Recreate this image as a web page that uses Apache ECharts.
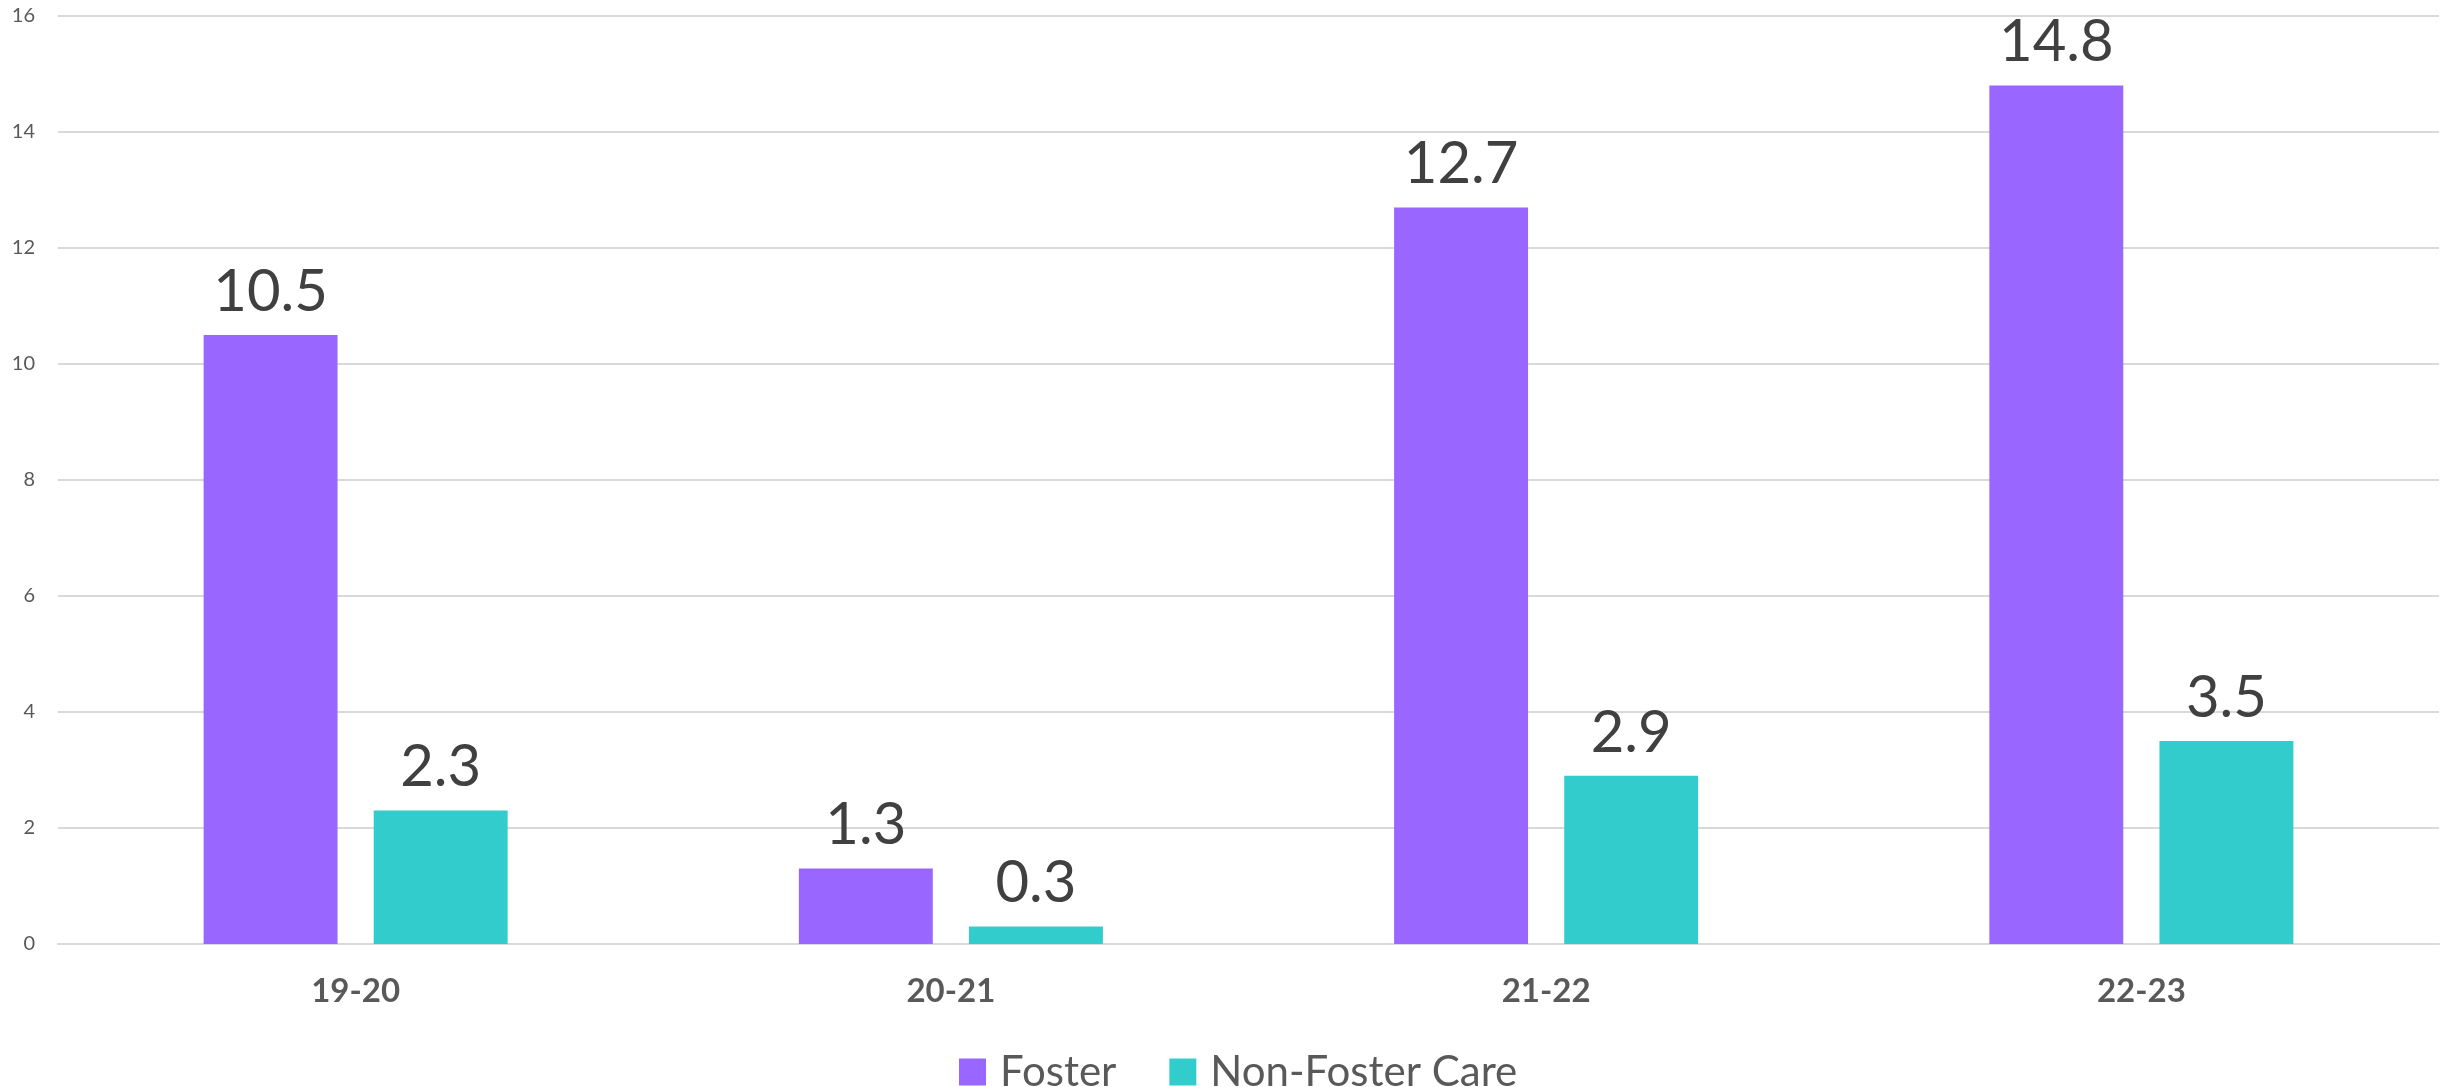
<!DOCTYPE html>
<html>
<head>
<meta charset="utf-8">
<script src="https://cdn.jsdelivr.net/npm/echarts@6/dist/echarts.min.js"></script>
<style>
html,body{margin:0;padding:0;background:#fff;}
#chart{width:2453px;height:1087px;}
</style>
</head>
<body>
<div id="chart"></div>
<script>
const categories = ['19-20', '20-21', '21-22', '22-23'];
const fosterValues = [10.5, 1.3, 12.7, 14.8];
const nonFosterValues = [2.3, 0.3, 2.9, 3.5];
const seriesNames = ['Foster', 'Non-Foster Care'];
const FONT = 'Lato, "Open Sans", sans-serif';

const chart = echarts.init(document.getElementById('chart'));
const labelStyle = {
  show: true, position: 'top', distance: 14,
  fontFamily: FONT, fontSize: 58, color: '#404040',
  formatter: p => p.value.toFixed(1)
};
chart.setOption({
  animation: false,
  backgroundColor: '#fff',
  grid: { left: 58, right: 14, top: 16, bottom: 143, containLabel: false },
  legend: {
    data: seriesNames,
    left: 954, top: 1046,
    itemWidth: 27, itemHeight: 27, itemGap: 53,
    icon: 'rect',
    textStyle: { fontFamily: FONT, fontSize: 42, color: '#595959', lineHeight: 42, padding: [0, 0, 0, 9] }
  },
  xAxis: {
    type: 'category', data: categories,
    axisLine: { show: true, lineStyle: { color: '#d9d9d9', width: 2 } },
    axisTick: { show: false },
    axisLabel: { fontFamily: FONT, fontSize: 33, fontWeight: 'bold', color: '#595959', margin: 31 }
  },
  yAxis: {
    type: 'value', min: 0, max: 16, interval: 2,
    axisLine: { show: false }, axisTick: { show: false },
    splitLine: { lineStyle: { color: '#d9d9d9', width: 2 } },
    axisLabel: { fontFamily: FONT, fontSize: 20, color: '#595959', margin: 23 }
  },
  series: [
    { name: seriesNames[0], type: 'bar', data: fosterValues, barWidth: '22.5%', barGap: '27%',
      itemStyle: { color: '#9966FF' }, label: labelStyle },
    { name: seriesNames[1], type: 'bar', data: nonFosterValues, barWidth: '22.5%', barGap: '27%',
      itemStyle: { color: '#33CCCC' }, label: labelStyle }
  ]
});
</script>
</body>
</html>
